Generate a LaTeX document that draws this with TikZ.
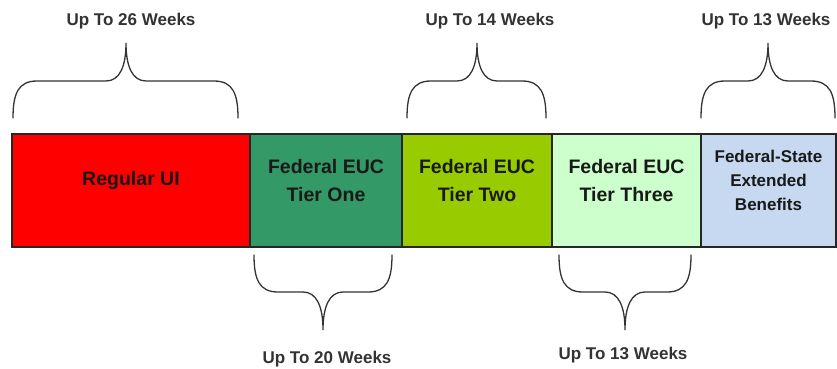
\documentclass[tikz,border=0pt]{standalone}
\usepackage{fontspec}
\setmainfont{Liberation Sans}
\usepackage{tikz}
\usepackage{xcolor}
\usetikzlibrary{positioning}
\definecolor{uired}{HTML}{FF0000}
\definecolor{tierone}{HTML}{339966}
\definecolor{tiertwo}{HTML}{99CC00}
\definecolor{tierthree}{HTML}{CCFFCC}
\definecolor{ebblue}{HTML}{C6D9F1}
\definecolor{inkgray}{HTML}{333333}
\tikzset{
    seg-box/.style = {draw=black!85, line width=1.2pt, rectangle, minimum height=113pt, inner sep=0pt, outer sep=0pt},
    seg-text/.style = {align=center, text=black!90, font=\bfseries\fontsize{19.5}{28}\selectfont},
    seg-small/.style = {align=center, text=black!90, font=\bfseries\fontsize{17}{24}\selectfont},
    week-label/.style = {anchor=base, text=inkgray, font=\bfseries\fontsize{17}{20}\selectfont},
    week-brace/.style = {draw=inkgray, line width=1.3pt, line cap=round},
}
% brace: left x, right x, middle x, tip y, bar y, peak y
\newcommand{\wkbrace}[6]{%
    \draw[week-brace] (#1,#4) .. controls (#1,{#5+0.35*(#4-#5)}) and ({#1+5},#5) .. ({#1+24},#5)
        -- ({#3-20},#5) .. controls ({#3-6},#5) and (#3,{#5+0.4*(#6-#5)}) .. (#3,#6)
        .. controls (#3,{#5+0.4*(#6-#5)}) and ({#3+6},#5) .. ({#3+20},#5)
        -- ({#2-24},#5) .. controls ({#2-5},#5) and (#2,{#5+0.35*(#4-#5)}) .. (#2,#4);%
}

\begin{document}
\begin{tikzpicture}[x=1pt,y=-1pt]
\useasboundingbox (0,0) rectangle (837,369);

% the five segments
\node [seg-box, fill=uired, minimum width=238pt] (reg) at (131,190.5) {};
\node [seg-box, fill=tierone, minimum width=152pt, right=0pt of reg] (one) {};
\node [seg-box, fill=tiertwo, minimum width=150pt, right=0pt of one] (two) {};
\node [seg-box, fill=tierthree, minimum width=149pt, right=0pt of two] (three) {};
\node [seg-box, fill=ebblue, minimum width=135pt, right=0pt of three] (eb) {};

\node [seg-text] (reg-t) at ([yshift=10pt]reg.center) {Regular UI};
\node [seg-text] (one-t) at ([yshift=10pt]one.center) {Federal EUC\\Tier One};
\node [seg-text] (two-t) at ([yshift=10pt]two.center) {Federal EUC\\Tier Two};
\node [seg-text] (three-t) at ([yshift=10pt]three.center) {Federal EUC\\Tier Three};
\node [seg-small] (eb-t) at ([yshift=10pt]eb.center) {Federal-State\\Extended\\Benefits};

% braces above
\wkbrace{13}{238}{126}{118}{81}{43}
\wkbrace{407}{546}{477}{118}{81}{43}
\wkbrace{701}{835}{768}{118}{81}{43}
% braces below
\wkbrace{254}{392}{323}{255}{292}{330}
\wkbrace{559}{691}{625}{255}{292}{330}

\node [week-label] (w26) at (131,26) {Up To 26 Weeks};
\node [week-label] (w14) at (490,26) {Up To 14 Weeks};
\node [week-label] (w13a) at (766,26) {Up To 13 Weeks};
\node [week-label] (w20) at (327,363) {Up To 20 Weeks};
\node [week-label] (w13b) at (623,359) {Up To 13 Weeks};
\end{tikzpicture}
\end{document}
